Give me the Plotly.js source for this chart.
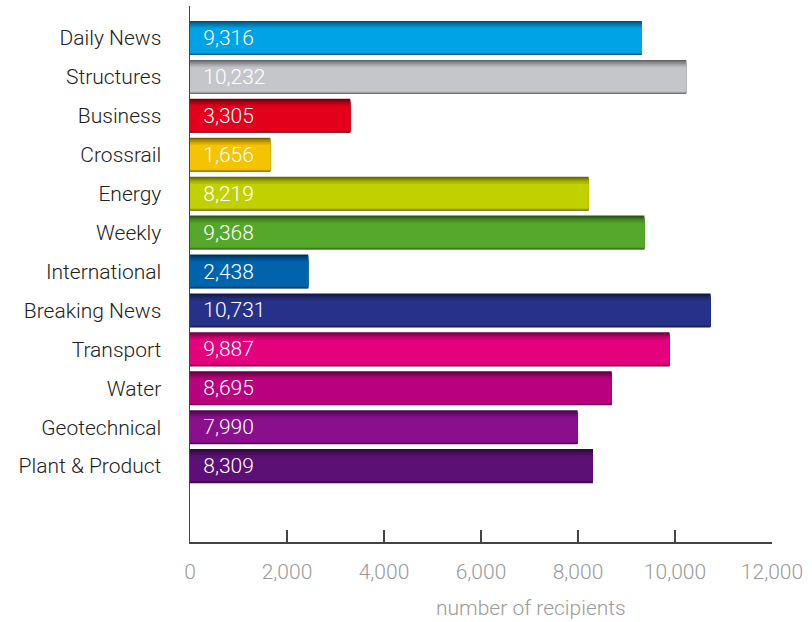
<!DOCTYPE html>
<html>
<head>
<meta charset="utf-8">
<script src="https://cdn.plot.ly/plotly-3.0.1.min.js"></script>
<style>html,body{margin:0;padding:0;background:#fff;}#chart{width:812px;height:622px;}</style>
</head>
<body>
<div id="chart"></div>
<script>
// ---- data ----
const categories = ["Daily News","Structures","Business","Crossrail","Energy","Weekly","International","Breaking News","Transport","Water","Geotechnical","Plant & Product"];
const recipients = [9316,10232,3305,1656,8219,9368,2438,10731,9887,8695,7990,8309];
const barColors = ["#00a3e6","#c5c6ca","#e2001a","#f5c400","#c1d100","#56a82a","#0064ad","#263289","#e5007d","#b9007f","#8a0f8c","#5c0f74"];
const xTicks = [0,2000,4000,6000,8000,10000,12000];
const xTitle = "number of recipients";

// ---- helpers (style only) ----
function shade(hex, f){
  const n = parseInt(hex.slice(1),16);
  let r=(n>>16)&255,g=(n>>8)&255,b=n&255;
  r=Math.round(r*f);g=Math.round(g*f);b=Math.round(b*f);
  return "rgb("+r+","+g+","+b+")";
}
const FONT = "Roboto, 'Open Sans', sans-serif";
const WT = 300;
const W = 0.875;

function layer(colors, width, offset, extra){
  return Object.assign({
    type:"bar", orientation:"h", y:categories, x:recipients,
    width:width, offset:offset,
    marker:{color:colors, line:{width:0}},
    hoverinfo:"skip", showlegend:false
  }, extra||{});
}

// stacked layers give a soft top-lit shading
const shades = [0.5,0.6,0.7,0.78,0.86,0.93,1.0];
const topInset = [0,0.03,0.06,0.09,0.12,0.15,0.19];
const botInset = [0,0.01,0.02,0.03,0.04,0.05,0.06];
const traces = shades.map((f,i)=>layer(
  barColors.map(c=>shade(c,f)),
  W-topInset[i]-botInset[i], -W/2+topInset[i]
));
traces.push(layer(barColors.map(()=>"rgba(0,0,0,0)"), W, -W/2, {
  text: recipients.map(v=>v.toLocaleString("en-US")),
  texttemplate:"\u00a0\u00a0%{text}",
  textposition:"inside", insidetextanchor:"start",
  textfont:{color:"#ffffff", size:21, family:FONT, weight:WT},
  constraintext:"none", cliponaxis:false
}));

const layout = {
  width:812, height:622,
  margin:{l:190, r:40, t:6, b:80},
  paper_bgcolor:"#fff", plot_bgcolor:"#fff",
  barmode:"overlay",
  font:{family:FONT, weight:WT},
  xaxis:{
    range:[0,12000], tickvals:xTicks, tickformat:",",
    ticks:"inside", ticklen:12, tickwidth:1.5, tickcolor:"#444",
    showline:true, linecolor:"#444", linewidth:1.5,
    showgrid:false, zeroline:false,
    tickfont:{size:21, color:"#9a9a9a", family:FONT, weight:WT},
    ticklabelstandoff:10, fixedrange:true
  },
  yaxis:{
    type:"category", range:[12.95,-0.822],
    showline:true, linecolor:"#444", linewidth:1.5,
    ticks:"", showgrid:false, zeroline:false,
    tickfont:{size:21, color:"#222", family:FONT, weight:WT},
    ticklabelstandoff:23, fixedrange:true
  },
  annotations:[{
    text:xTitle, xref:"paper", yref:"paper", x:0.586, y:-0.123,
    xanchor:"center", yanchor:"middle", showarrow:false,
    font:{size:21, color:"#9a9a9a", family:FONT, weight:WT}
  }]
};

Plotly.newPlot("chart", traces, layout, {displayModeBar:false, staticPlot:true});
</script>
</body>
</html>
